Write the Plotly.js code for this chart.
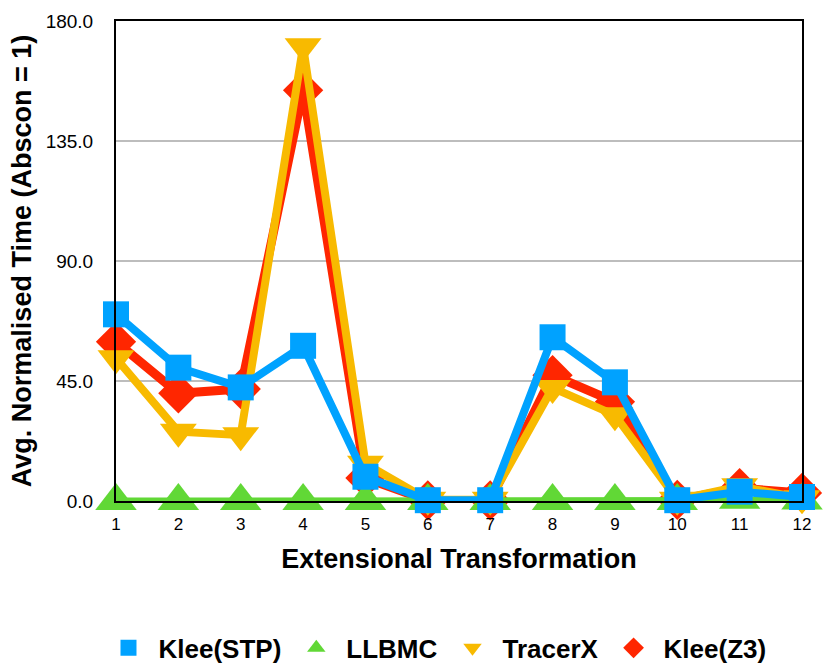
<!DOCTYPE html>
<html>
<head>
<meta charset="utf-8">
<script src="https://cdn.plot.ly/plotly-3.0.1.min.js"></script>
<style>html,body{margin:0;padding:0;background:#fff;}#chart{width:830px;height:666px;}</style>
</head>
<body>
<div id="chart"></div>
<script>
const categories = [1,2,3,4,5,6,7,8,9,10,11,12];
const kleeSTP  = [70, 50, 42.6, 58.2, 9.1, 0.3, 0.3, 61.4, 44.5, 0.3, 3.5, 1.5];
const llbmc    = [0, 0, 0, 0, 0, 0, 0, 0, 0, 0, 0.5, 0.2];
const tracerX  = [53.5, 26, 24.7, 170.5, 14, 0.5, 0.5, 42.4, 32.2, 0.5, 5.5, 1];
const kleeZ3   = [59.7, 40.4, 42, 154, 8.6, 0.2, 0.2, 47.2, 37.2, 0.4, 4.8, 3];
const yTicks   = [0, 45, 90, 135, 180];
const seriesNames = ["Klee(STP)", "LLBMC", "TracerX", "Klee(Z3)"];

const FONT = "Liberation Sans, Arial, Helvetica, sans-serif";
const styles = {
  "Klee(STP)": {color: "#00a2ff", width: 8, symbol: "square", size: 26},
  "LLBMC":     {color: "#61d836", width: 7, symbol: "triangle-up", size: 36},
  "TracerX":   {color: "#f8ba00", width: 8, symbol: "triangle-down", size: 32},
  "Klee(Z3)":  {color: "#ff2600", width: 9, symbol: "diamond", size: 31}
};
const dataByName = {"Klee(STP)": kleeSTP, "LLBMC": llbmc, "TracerX": tracerX, "Klee(Z3)": kleeZ3};

// draw order: red (bottom), yellow, green, blue (top)
const drawOrder = ["Klee(Z3)", "TracerX", "LLBMC", "Klee(STP)"];
const traces = drawOrder.map(n => ({
  x: categories, y: dataByName[n], name: n, showlegend: false, mode: "lines+markers", cliponaxis: false,
  line: {color: styles[n].color, width: styles[n].width},
  marker: {symbol: styles[n].symbol, size: styles[n].size, color: styles[n].color}
}));
// legend entries (marker only), in legend order
seriesNames.forEach(n => traces.push({
  x: [null], y: [null], name: n, showlegend: true, mode: "markers",
  marker: {symbol: styles[n].symbol, size: 16, color: styles[n].color}
}));

const layout = {
  width: 830, height: 666,
  margin: {l: 116, r: 28, t: 21, b: 165, autoexpand: false},
  paper_bgcolor: "#fff", plot_bgcolor: "#fff",
  font: {family: FONT, color: "#000"},
  showlegend: true,
  legend: {orientation: "h", x: 0.465, xanchor: "center", y: -0.306, yanchor: "middle",
           font: {family: FONT, size: 26, weight: "bold", color: "#000"}, itemwidth: 50, traceorder: "normal"},
  xaxis: {
    range: [1, 12], tickvals: categories, ticktext: categories.map(String),
    showgrid: false, zeroline: false, showline: true, mirror: true, linecolor: "#000", linewidth: 2,
    ticks: "", tickfont: {family: FONT, size: 17, color: "#000"}, ticklabelstandoff: 7,
    title: {text: "Extensional Transformation", font: {family: FONT, size: 27, weight: "bold", color: "#000"}, standoff: 16}
  },
  yaxis: {
    range: [0, 180], tickvals: yTicks, ticktext: yTicks.map(v => v.toFixed(1)),
    showgrid: true, gridcolor: "#bdbdbd", gridwidth: 2, zeroline: false,
    showline: true, mirror: true, linecolor: "#000", linewidth: 2,
    ticks: "", tickfont: {family: FONT, size: 19, color: "#000"}, ticklabelstandoff: 17,
    title: {text: "Avg. Normalised Time (Abscon = 1)", font: {family: FONT, size: 27, weight: "bold", color: "#000"}, standoff: 6}
  }
};

Plotly.newPlot("chart", traces, layout, {displayModeBar: false, staticPlot: true});
</script>
</body>
</html>
